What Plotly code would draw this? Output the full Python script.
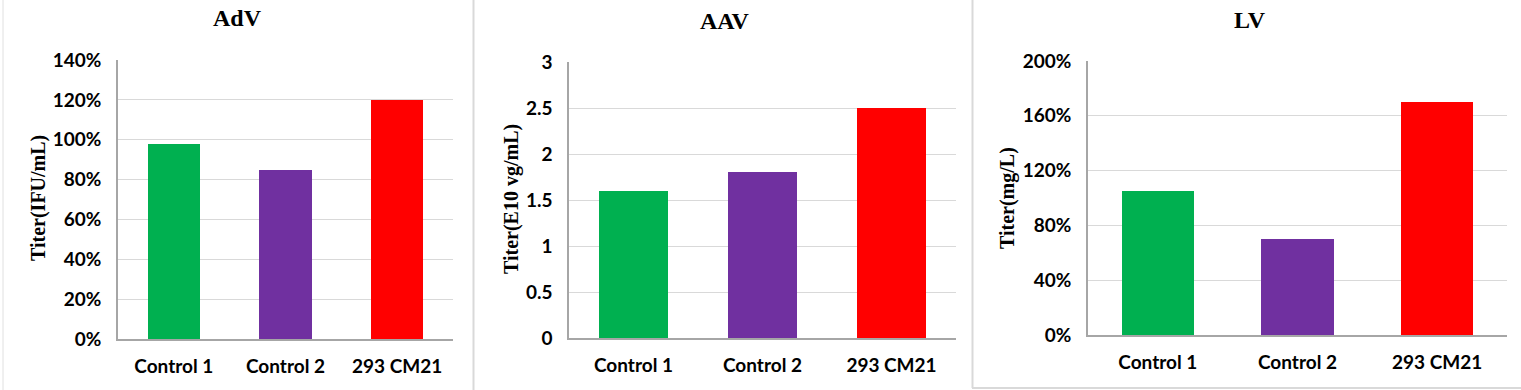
import plotly.graph_objects as go

categories = ["Control 1", "Control 2", "293 CM21"]
bar_colors = ["#00B050", "#7030A0", "#FF0000"]

adv_values = [0.98, 0.85, 1.20]
aav_values = [1.6, 1.8, 2.5]
lv_values = [1.05, 0.70, 1.70]

adv_ticks = [0, 0.2, 0.4, 0.6, 0.8, 1.0, 1.2, 1.4]
aav_ticks = [0, 0.5, 1, 1.5, 2, 2.5, 3]
aav_tick_labels = ["0", "0.5", "1", "1.5", "2", "2.5", "3"]
lv_ticks = [0, 0.4, 0.8, 1.2, 1.6, 2.0]

titles = ["AdV", "AAV", "LV"]
y_titles = ["Titer(IFU/mL)", "Titer(E10 vg/mL)", "Titer(mg/L)"]

W, H = 1521, 390


def fx(x):
    return x / W


def fy(y):
    return 1 - y / H


panels = [
    dict(x=(118, 453), y=(60, 339), vals=adv_values, width=0.466,
         rng=[0, 1.4], ticks=adv_ticks, labels=None, fmt=".0%",
         title_xy=(237, 18), ytitle_xy=(38, 198)),
    dict(x=(569, 956), y=(62, 338), vals=aav_values, width=0.535,
         rng=[0, 3], ticks=aav_ticks, labels=aav_tick_labels, fmt=None,
         title_xy=(725, 21), ytitle_xy=(511, 199)),
    dict(x=(1088, 1507), y=(61, 335), vals=lv_values, width=0.516,
         rng=[0, 2], ticks=lv_ticks, labels=None, fmt=".0%",
         title_xy=(1250, 20), ytitle_xy=(1007, 198)),
]

tick_font = dict(family="Lato", size=19, color="#000000", weight="bold")
fig = go.Figure()
layout = dict(
    template="none",
    width=W, height=H,
    margin=dict(l=0, r=0, t=0, b=0, pad=0, autoexpand=False),
    paper_bgcolor="white", plot_bgcolor="white",
    showlegend=False,
    bargap=0,
)
annotations = []
for i, p in enumerate(panels):
    n = "" if i == 0 else str(i + 1)
    fig.add_trace(go.Bar(
        x=categories, y=p["vals"], marker=dict(color=bar_colors, line=dict(width=0)),
        width=p["width"], xaxis="x" + n, yaxis="y" + n, hoverinfo="x+y",
    ))
    layout["xaxis" + n] = dict(
        domain=[fx(p["x"][0]), fx(p["x"][1])], anchor="y" + n,
        showline=True, linecolor="#a6a6a6", linewidth=1.5,
        showgrid=False, ticks="", tickfont=tick_font, ticklabelstandoff=9,
        fixedrange=True, automargin=False,
    )
    yax = dict(
        domain=[fy(p["y"][1]), fy(p["y"][0])], anchor="x" + n,
        range=p["rng"], tickvals=p["ticks"],
        showline=True, linecolor="#a6a6a6", linewidth=1.5,
        showgrid=True, gridcolor="#d9d9d9", gridwidth=1,
        zeroline=False, ticks="", tickfont=tick_font, ticklabelstandoff=11,
        fixedrange=True, automargin=False,
    )
    if p["labels"] is not None:
        yax["ticktext"] = p["labels"]
    if p["fmt"]:
        yax["tickformat"] = p["fmt"]
    layout["yaxis" + n] = yax
    annotations.append(dict(
        text="<b>%s</b>" % titles[i], xref="paper", yref="paper",
        x=fx(p["title_xy"][0]), y=fy(p["title_xy"][1]),
        xanchor="center", yanchor="middle", showarrow=False,
        font=dict(family="Liberation Serif", size=24, color="#000000"),
    ))
    annotations.append(dict(
        text="<b>%s</b>" % y_titles[i], xref="paper", yref="paper",
        x=fx(p["ytitle_xy"][0]), y=fy(p["ytitle_xy"][1]),
        xanchor="center", yanchor="middle", showarrow=False, textangle=-90,
        font=dict(family="Liberation Serif", size=20, color="#000000"),
    ))

border = dict(color="#d9d9d9", width=2)
layout["shapes"] = [
    dict(type="line", xref="paper", yref="paper", x0=fx(3), x1=fx(3), y0=0, y1=1,
         line=dict(color="#e0e0e0", width=1)),
    dict(type="line", xref="paper", yref="paper", x0=fx(473.5), x1=fx(473.5), y0=0, y1=1,
         line=border),
    dict(type="line", xref="paper", yref="paper", x0=fx(972.5), x1=fx(972.5), y0=fy(388), y1=1,
         line=border),
    dict(type="line", xref="paper", yref="paper", x0=fx(972), x1=1, y0=fy(388), y1=fy(388),
         line=border),
]
layout["annotations"] = annotations
fig.update_layout(**layout)
fig.write_html(
    "out.html",
    config={"displayModeBar": False, "responsive": False},
    post_script="document.body.style.margin='0';document.body.style.overflow='hidden';",
)
